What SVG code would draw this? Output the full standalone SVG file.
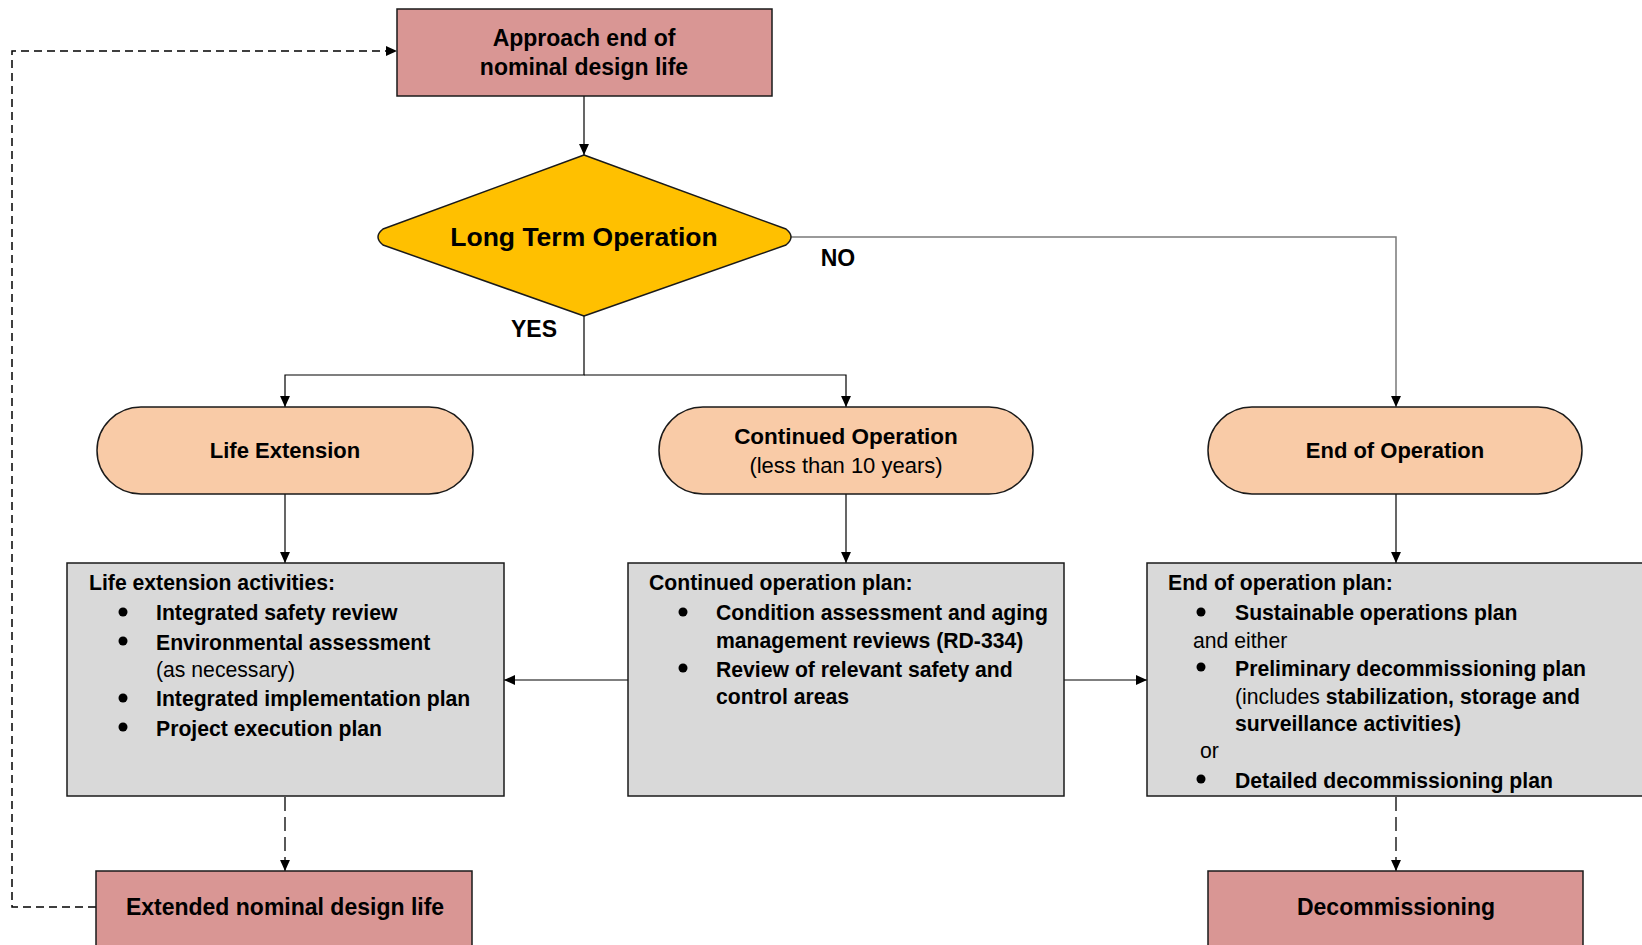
<svg xmlns="http://www.w3.org/2000/svg" width="1642" height="945" viewBox="0 0 1642 945">
<style>
  text { font-family: "Liberation Sans", Arial, sans-serif; fill: #000; }
  .b { font-weight: bold; }
  .c { text-anchor: middle; }
  .pink { fill: #D99694; stroke: #1a1a1a; stroke-width: 1.5; }
  .pill { fill: #F9CBA7; stroke: #1a1a1a; stroke-width: 1.5; }
  .gray { fill: #D9D9D9; stroke: #1a1a1a; stroke-width: 1.5; }
  .ln { fill: none; stroke: #000; stroke-width: 1.2; }
  .lg { fill: none; stroke: #7a7a7a; stroke-width: 1.5; }
  .dash { fill: none; stroke: #000; stroke-width: 1.3; stroke-dasharray: 14 6; }
  .dash2 { fill: none; stroke: #000; stroke-width: 1.5; stroke-dasharray: 8 5; }
  .bt { font-size: 21.2px; }
</style>
<defs>
  <marker id="ah" viewBox="0 0 10 10" refX="10" refY="5" markerWidth="12" markerHeight="11" markerUnits="userSpaceOnUse" orient="auto">
    <path d="M0,0.5 L10,5 L0,9.5 z" fill="#000"/>
  </marker>
</defs>

<g id="connectors">
  <path class="ln" d="M584,96 V155" marker-end="url(#ah)"/>
  <path class="ln" d="M584,316 V375 H285 V407" marker-end="url(#ah)"/>
  <path class="ln" d="M584,375 H846 V407" marker-end="url(#ah)"/>
  <path class="lg" d="M791,237 H1396 V407" marker-end="url(#ah)"/>
  <path class="ln" d="M285,494 V563" marker-end="url(#ah)"/>
  <path class="ln" d="M846,494 V563" marker-end="url(#ah)"/>
  <path class="ln" d="M1396,494 V563" marker-end="url(#ah)"/>
  <path class="ln" d="M628,680 H504" marker-end="url(#ah)"/>
  <path class="ln" d="M1064,680 H1147" marker-end="url(#ah)"/>
  <path class="dash" d="M285,797 V871" marker-end="url(#ah)"/>
  <path class="dash" d="M1396,797 V871" marker-end="url(#ah)"/>
  <path class="dash2" d="M96,907 H12 V51 H397" marker-end="url(#ah)"/>
</g>

<g id="approach">
  <rect class="pink" x="397" y="9" width="375" height="87"/>
  <text class="b c" x="584" y="46" font-size="23">Approach end of</text>
  <text class="b c" x="584" y="75" font-size="23">nominal design life</text>
</g>

<g id="lto">
  <path d="M584,155 L786,229 Q796,237 786,245 L584,316 L383,245 Q373,237 383,229 Z" fill="#FFC000" stroke="#1a1a1a" stroke-width="1.5" stroke-linejoin="round"/>
  <text class="b c" x="584" y="246" font-size="26.5">Long Term Operation</text>
</g>

<g id="labels">
  <text class="b c" x="838" y="266" font-size="23">NO</text>
  <text class="b c" x="534" y="337" font-size="23">YES</text>
</g>

<g id="life-extension">
  <rect class="pill" x="97" y="407" width="376" height="87" rx="44" ry="43.5"/>
  <text class="b c" x="285" y="458" font-size="22">Life Extension</text>
</g>

<g id="continued-operation">
  <rect class="pill" x="659" y="407" width="374" height="87" rx="44" ry="43.5"/>
  <text class="b c" x="846" y="444" font-size="22.5">Continued Operation</text>
  <text class="c" x="846" y="473" font-size="22">(less than 10 years)</text>
</g>

<g id="end-of-operation">
  <rect class="pill" x="1208" y="407" width="374" height="87" rx="44" ry="43.5"/>
  <text class="b c" x="1395" y="458" font-size="22">End of Operation</text>
</g>

<g id="life-activities">
  <rect class="gray" x="67" y="563" width="437" height="233"/>
  <text class="b bt" x="89" y="590">Life extension activities:</text>
  <circle cx="123" cy="612" r="4.5"/>
  <text class="b bt" x="156" y="620">Integrated safety review</text>
  <circle cx="123" cy="641" r="4.5"/>
  <text class="b bt" x="156" y="649.5">Environmental assessment</text>
  <text class="bt" x="156" y="677">(as necessary)</text>
  <circle cx="123" cy="698" r="4.5"/>
  <text class="b bt" x="156" y="706">Integrated implementation plan</text>
  <circle cx="123" cy="727" r="4.5"/>
  <text class="b bt" x="156" y="735.5">Project execution plan</text>
</g>

<g id="continued-plan">
  <rect class="gray" x="628" y="563" width="436" height="233"/>
  <text class="b bt" x="649" y="590">Continued operation plan:</text>
  <circle cx="683" cy="612" r="4.5"/>
  <text class="b bt" x="716" y="620">Condition assessment and aging</text>
  <text class="b bt" x="716" y="647.5">management reviews (RD-334)</text>
  <circle cx="683" cy="668" r="4.5"/>
  <text class="b bt" x="716" y="677">Review of relevant safety and</text>
  <text class="b bt" x="716" y="704">control areas</text>
</g>

<g id="end-plan">
  <rect class="gray" x="1147" y="563" width="500" height="233"/>
  <text class="b bt" x="1168" y="590">End of operation plan:</text>
  <circle cx="1201" cy="612" r="4.5"/>
  <text class="b bt" x="1235" y="620">Sustainable operations plan</text>
  <text class="bt" x="1193" y="647.5">and either</text>
  <circle cx="1201" cy="667" r="4.5"/>
  <text class="b bt" x="1235" y="675.5">Preliminary decommissioning plan</text>
  <text class="bt" x="1235" y="704">(includes <tspan class="b">stabilization,  storage and</tspan></text>
  <text class="b bt" x="1235" y="731">surveillance activities)</text>
  <text class="bt" x="1200" y="758">or</text>
  <circle cx="1201" cy="779" r="4.5"/>
  <text class="b bt" x="1235" y="787.5">Detailed decommissioning plan</text>
</g>

<g id="extended-life">
  <rect class="pink" x="96" y="871" width="376" height="80"/>
  <text class="b c" x="285" y="915" font-size="23">Extended nominal design life</text>
</g>

<g id="decommissioning">
  <rect class="pink" x="1208" y="871" width="375" height="80"/>
  <text class="b c" x="1396" y="915" font-size="23">Decommissioning</text>
</g>
</svg>
